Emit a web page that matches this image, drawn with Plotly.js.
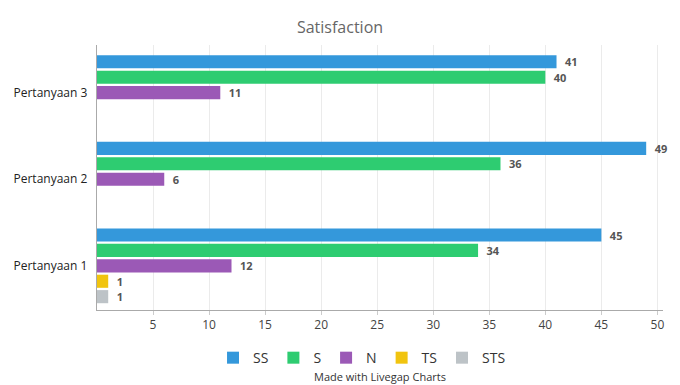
<!DOCTYPE html>
<html>
<head>
<meta charset="utf-8">
<script src="https://cdn.plot.ly/plotly-3.0.1.min.js"></script>
<style>html,body{margin:0;padding:0;background:#fff;}#chart{width:680px;height:385px;}</style>
</head>
<body>
<div id="chart"></div>
<script>
const categories = ["Pertanyaan 1", "Pertanyaan 2", "Pertanyaan 3"];
const seriesNames = ["SS", "S", "N", "TS", "STS"];
const SS = [45, 49, 41];
const S = [34, 36, 40];
const N = [12, 6, 11];
const TS = [1, 0, 0];
const STS = [1, 0, 0];
const colors = ["#3498db", "#2ecc71", "#9b59b6", "#f1c40f", "#bdc3c7"];
const seriesValues = [SS, S, N, TS, STS];

const traces = [];
for (let i = seriesNames.length - 1; i >= 0; i--) {
  const vals = seriesValues[i];
  traces.push({
    type: "bar",
    orientation: "h",
    name: seriesNames[i],
    y: categories,
    x: vals,
    text: vals.map(v => v ? "\u2002" + String(v) : ""),
    textposition: "outside",
    constraintext: "none",
    textfont: {family: "Open Sans", size: 11, color: "#555555", weight: "bold"},
    cliponaxis: false,
    marker: {color: colors[i]},
    hoverinfo: "x+name"
  });
}

const layout = {
  width: 680, height: 385,
  margin: {l: 97, r: 17, t: 45, b: 74},
  paper_bgcolor: "#ffffff",
  plot_bgcolor: "#ffffff",
  font: {family: "Open Sans", color: "#444"},
  title: {text: "Satisfaction", font: {family: "Open Sans", size: 16, color: "#666666"}, x: 0.5, xanchor: "center", y: 0.93, yanchor: "middle"},
  barmode: "group",
  bargap: 0.11,
  bargroupgap: 0.15,
  xaxis: {
    range: [0, 50.5],
    tickvals: [5, 10, 15, 20, 25, 30, 35, 40, 45, 50],
    showgrid: true, gridcolor: "#ebebeb", gridwidth: 1,
    zeroline: false,
    showline: true, linecolor: "#aaaaaa", linewidth: 1,
    ticks: "outside", ticklen: 4, tickcolor: "#cccccc",
    tickfont: {family: "Open Sans", size: 12, color: "#444"}
  },
  yaxis: {
    type: "category",
    range: [-0.51, 2.55],
    showgrid: false, zeroline: false,
    showline: true, linecolor: "#aaaaaa", linewidth: 1,
    ticks: "", ticksuffix: "  ",
    tickfont: {family: "Open Sans", size: 12, color: "#222"}
  },
  legend: {
    orientation: "h", traceorder: "reversed",
    x: 0.205, xanchor: "left", y: -0.177, yanchor: "middle",
    font: {family: "Open Sans", size: 14, color: "#333"},
    itemwidth: 30,
    itemclick: false
  },
  showlegend: true,
  annotations: [{
    text: "Made with Livegap Charts", xref: "paper", yref: "paper",
    x: 0.5, xanchor: "center", y: -0.252, yanchor: "middle",
    showarrow: false, font: {family: "Open Sans", size: 11, color: "#333"}
  }]
};

Plotly.newPlot("chart", traces, layout, {displayModeBar: false, staticPlot: true});
</script>
</body>
</html>
